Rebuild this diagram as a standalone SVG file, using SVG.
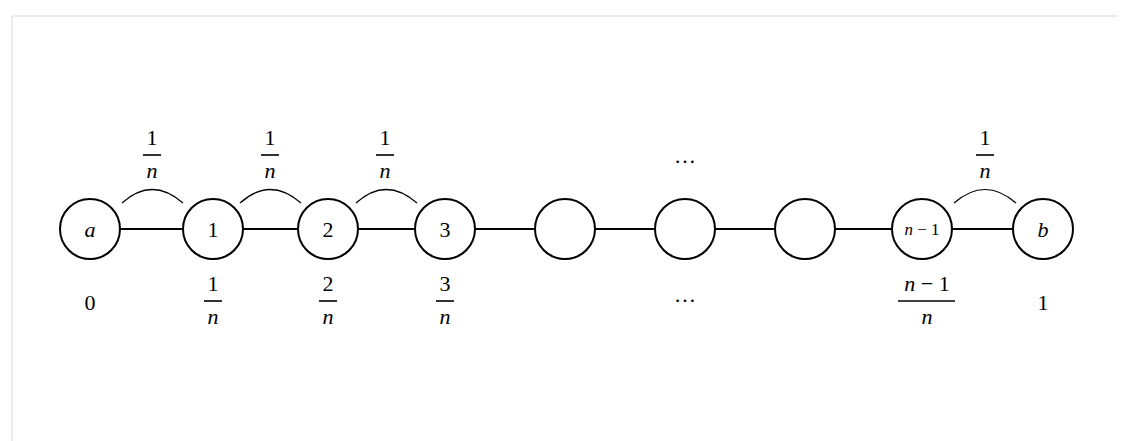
<svg xmlns="http://www.w3.org/2000/svg" width="1122" height="441" viewBox="0 0 1122 441">
<style>
.n{fill:#fff;stroke:#000;stroke-width:2}
.e{stroke:#000;stroke-width:2;fill:none}
.a{stroke:#000;stroke-width:1.2;fill:none}
.b{stroke:#000;stroke-width:1.6}
text{font-family:"Liberation Serif",serif;font-size:22px;text-anchor:middle;fill:#000}
.i{font-style:italic}
</style>
<rect width="1122" height="441" fill="#fff"/>
<path d="M12 441V16H1118" fill="none" stroke="#d9d9d9" stroke-width="1"/>
<g id="connectors">
<path class="e" d="M120 229H183M243 229H298M358 229H415M475 229H535M595 229H655M715 229H775M835 229H892M952 229H1013"/>
<path class="a" d="M122 203Q152 176 183 203M240 203Q270 176 301 203M356 203Q386 176 417 203M954 203Q985 176 1016 203"/>
</g>
<g id="node-a"><circle class="n" cx="90" cy="229" r="30"/><text class="i" x="90" y="237">a</text></g>
<g id="node-1"><circle class="n" cx="213" cy="229" r="30"/><text x="213" y="237">1</text></g>
<g id="node-2"><circle class="n" cx="328" cy="229" r="30"/><text x="328" y="237">2</text></g>
<g id="node-3"><circle class="n" cx="445" cy="229" r="30"/><text x="445" y="237">3</text></g>
<g id="node-4"><circle class="n" cx="565" cy="229" r="30"/></g>
<g id="node-5"><circle class="n" cx="685" cy="229" r="30"/></g>
<g id="node-6"><circle class="n" cx="805" cy="229" r="30"/></g>
<g id="node-n1"><circle class="n" cx="922" cy="229" r="30"/><text x="922" y="235" style="font-size:17px"><tspan class="i">n</tspan> − 1</text></g>
<g id="node-b"><circle class="n" cx="1043" cy="229" r="30"/><text class="i" x="1043" y="237">b</text></g>
<g id="labels">
<text x="152" y="145">1</text><line class="b" x1="143" y1="155" x2="161" y2="155"/><text class="i" x="152" y="178">n</text>
<text x="270" y="145">1</text><line class="b" x1="261" y1="155" x2="279" y2="155"/><text class="i" x="270" y="178">n</text>
<text x="385" y="145">1</text><line class="b" x1="376" y1="155" x2="394" y2="155"/><text class="i" x="385" y="178">n</text>
<text x="985" y="145">1</text><line class="b" x1="976" y1="155" x2="994" y2="155"/><text class="i" x="985" y="178">n</text>
<text x="685" y="163">…</text>
<text x="90" y="310">0</text>
<text x="213" y="291">1</text><line class="b" x1="204" y1="301" x2="222" y2="301"/><text class="i" x="213" y="324">n</text>
<text x="328" y="291">2</text><line class="b" x1="319" y1="301" x2="337" y2="301"/><text class="i" x="328" y="324">n</text>
<text x="445" y="291">3</text><line class="b" x1="436" y1="301" x2="454" y2="301"/><text class="i" x="445" y="324">n</text>
<text x="685" y="302">…</text>
<text x="927" y="291"><tspan class="i">n</tspan> − 1</text><line class="b" x1="898" y1="301" x2="955" y2="301"/><text class="i" x="927" y="324">n</text>
<text x="1043" y="310">1</text>
</g>
</svg>
